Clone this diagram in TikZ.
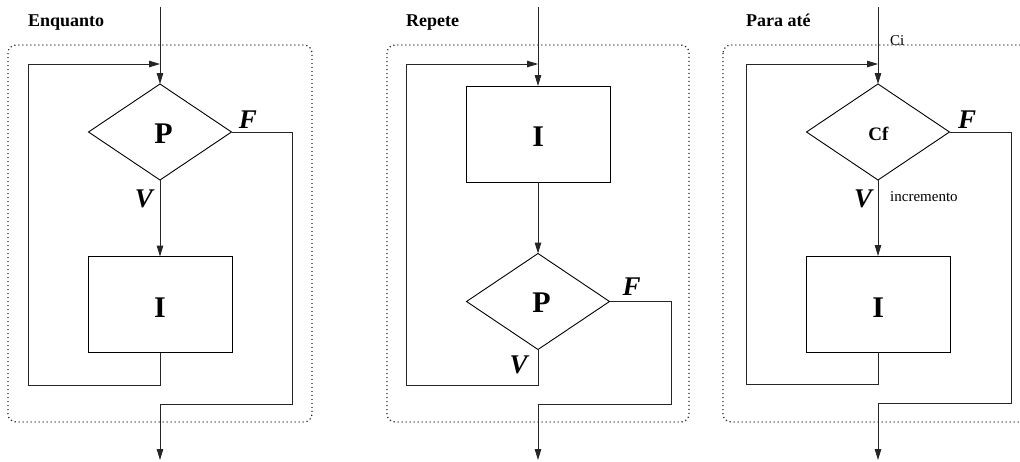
\documentclass[tikz,border=0pt]{standalone}
\usepackage{fontspec}
\setmainfont{Liberation Serif}
\usetikzlibrary{arrows.meta,shapes.geometric}

\tikzset{
  flow/.style={line width=1pt, draw=black!85},
  arr/.style={-{Triangle[length=11pt,width=6.5pt]}},
  cond/.style={diamond, draw=black, line width=0.9pt, minimum width=143pt,
    minimum height=96pt, inner sep=0pt, outer sep=0pt},
  instr/.style={rectangle, draw=black, line width=0.9pt, minimum width=144pt,
    minimum height=96pt, inner sep=0pt, outer sep=0pt},
  frame/.style={draw=black!85, line width=1.2pt, dash pattern=on 1.2pt off 2.8pt,
    rounded corners=8pt},
  title/.style={anchor=base west, inner sep=0pt, font=\fontsize{18}{20}\selectfont\bfseries},
  big/.style={anchor=base, inner sep=0pt, font=\fontsize{30}{32}\selectfont\bfseries},
  branch/.style={anchor=base, inner sep=0pt, font=\fontsize{27}{29}\selectfont\bfseries\itshape},
  note/.style={anchor=base west, inner sep=0pt, font=\fontsize{15}{17}\selectfont},
}

\begin{document}
\begin{tikzpicture}[x=1pt,y=-1pt]
\clip (0,0) rectangle (1020,461);
\fill[white] (0,0) rectangle (1020,461);

% ---------------- Enquanto ----------------
\node[title] (t1) at (28,26) {Enquanto};
\draw[frame] (8,45) rectangle (312,422);
\coordinate (in1) at (160,7);
\coordinate (j1) at (160,64);
\coordinate (lb1) at (28,385);
\coordinate (fr1) at (292,404);
\coordinate (out1) at (160,460);
\node[cond] (c1) at (160,132) {};
\node[instr] (b1) at (160,304.5) {};
\node[big] (p1) at (163.5,143) {P};
\node[big] (i1) at (160,317) {I};
\node[branch] (f1) at (248,128) {F};
\node[branch] (v1) at (144,207) {V};
\draw[flow,arr] (in1) -- (c1.north);
\draw[flow,arr] (c1.south) -- (b1.north);
\draw[flow,arr] (b1.south) |- (lb1) |- (j1);
\draw[flow,arr] (c1.east) -| (fr1) -| (out1);

% ---------------- Repete ----------------
\node[title] (t2) at (406,26) {Repete};
\draw[frame] (387,45) rectangle (689,422);
\coordinate (in2) at (538,7);
\coordinate (j2) at (538,64);
\coordinate (lb2) at (406,385);
\coordinate (fr2) at (671,404);
\coordinate (out2) at (538,460);
\node[instr] (b2) at (538,134) {};
\node[cond] (c2) at (538,301.5) {};
\node[big] (i2) at (538.3,146.5) {I};
\node[big] (p2) at (541.5,312.5) {P};
\node[branch] (f2) at (631.5,295) {F};
\node[branch] (v2) at (518.5,373) {V};
\draw[flow,arr] (in2) -- (b2.north);
\draw[flow,arr] (b2.south) -- (c2.north);
\draw[flow,arr] (c2.south) |- (lb2) |- (j2);
\draw[flow,arr] (c2.east) -| (fr2) -| (out2);

% ---------------- Para até ----------------
\node[title] (t3) at (746,26) {Para até};
\draw[frame] (723,45) rectangle (1080,422);
\coordinate (in3) at (878,7);
\coordinate (j3) at (878,64);
\coordinate (lb3) at (746,384);
\coordinate (fr3) at (1011,403);
\coordinate (out3) at (878,460);
\node[cond] (c3) at (878,132) {};
\node[instr] (b3) at (878,304) {};
\node[anchor=base, inner sep=0pt, font=\fontsize{19}{21}\selectfont\bfseries] (cf) at (878.3,140) {Cf};
\node[big] (i3) at (878.3,317) {I};
\node[branch] (f3) at (967,128) {F};
\node[branch] (v3) at (863,207) {V};
\node[note] (ci) at (890,45) {Ci};
\node[note] (inc) at (890,201.5) {incremento};
\draw[flow,arr] (in3) -- (c3.north);
\draw[flow,arr] (c3.south) -- (b3.north);
\draw[flow,arr] (b3.south) |- (lb3) |- (j3);
\draw[flow,arr] (c3.east) -| (fr3) -| (out3);
\end{tikzpicture}
\end{document}
